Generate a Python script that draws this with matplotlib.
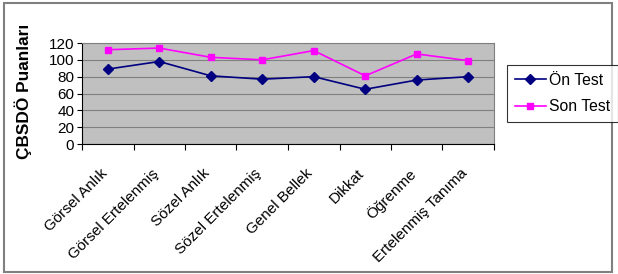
import numpy as np
import matplotlib.pyplot as plt
import matplotlib.transforms as mtrans
from matplotlib.patches import Rectangle

categories = ["Görsel Anlık", "Görsel Ertelenmiş", "Sözel Anlık", "Sözel Ertelenmiş",
              "Genel Bellek", "Dikkat", "Öğrenme", "Ertelenmiş Tanıma"]
on_test = [89, 98, 81, 77, 80, 65, 76, 80]
son_test = [112, 114, 103, 100, 111, 81, 107, 99]
yticks = [0, 20, 40, 60, 80, 100, 120]

plt.rcParams['font.family'] = ['Liberation Sans', 'DejaVu Sans']

fig = plt.figure(figsize=(6.18, 2.74), dpi=100)
W, H = 618, 274

# outer chart border
fig.patches.append(Rectangle((4/W, 2/H), 608/W, 269/H, transform=fig.transFigure,
                             fill=False, edgecolor="#808080", linewidth=1.5))

ax = fig.add_axes([82/W, 1 - 144/H, 412/W, 101/H])
ax.set_facecolor("#C0C0C0")

x = np.arange(len(categories))
ax.plot(x, on_test, color="#000080", marker="D", markersize=5, linewidth=1.2, label="Ön Test")
ax.plot(x, son_test, color="#FF00FF", marker="s", markersize=5, linewidth=1.2, label="Son Test")

ax.set_xlim(-0.5, len(categories) - 0.5)
ax.set_ylim(0, 120)
ax.set_yticks(yticks)
ax.yaxis.grid(True, color="#808080", linewidth=0.8)
ax.set_axisbelow(True)

ax.set_xticks(np.arange(len(categories) + 1) - 0.5)
ax.set_xticklabels([])
ax.set_xticks(x, minor=True)
ax.set_xticklabels(categories, minor=True, rotation=45, ha="right",
                   rotation_mode="anchor", fontsize=11)
ax.tick_params(axis="x", which="minor", length=0, pad=16)
ax.tick_params(axis="x", which="major", length=4, color="black")
ax.tick_params(axis="y", labelsize=11, length=3.5, pad=2)

shift = mtrans.ScaledTranslation(-0.08, 0, fig.dpi_scale_trans)
for lbl in ax.get_xticklabels(minor=True):
    lbl.set_transform(lbl.get_transform() + shift)

for s in ["top", "right"]:
    ax.spines[s].set_color("#808080")
for s in ["left", "bottom"]:
    ax.spines[s].set_color("black")

fig.text(23/W, 1 - 91/H, "ÇBSDÖ Puanları", rotation=90, ha="center", va="center",
         fontsize=12.4, fontweight="bold")

leg = fig.legend(loc="upper left", bbox_to_anchor=(507/W, 1 - 65/H), fontsize=11.3,
                 frameon=True, fancybox=False, edgecolor="black", handlelength=2.0,
                 borderpad=0.48, labelspacing=0.75, handletextpad=0.2, borderaxespad=0)
leg.get_frame().set_linewidth(0.8)

fig.savefig("out.png", dpi=100)
